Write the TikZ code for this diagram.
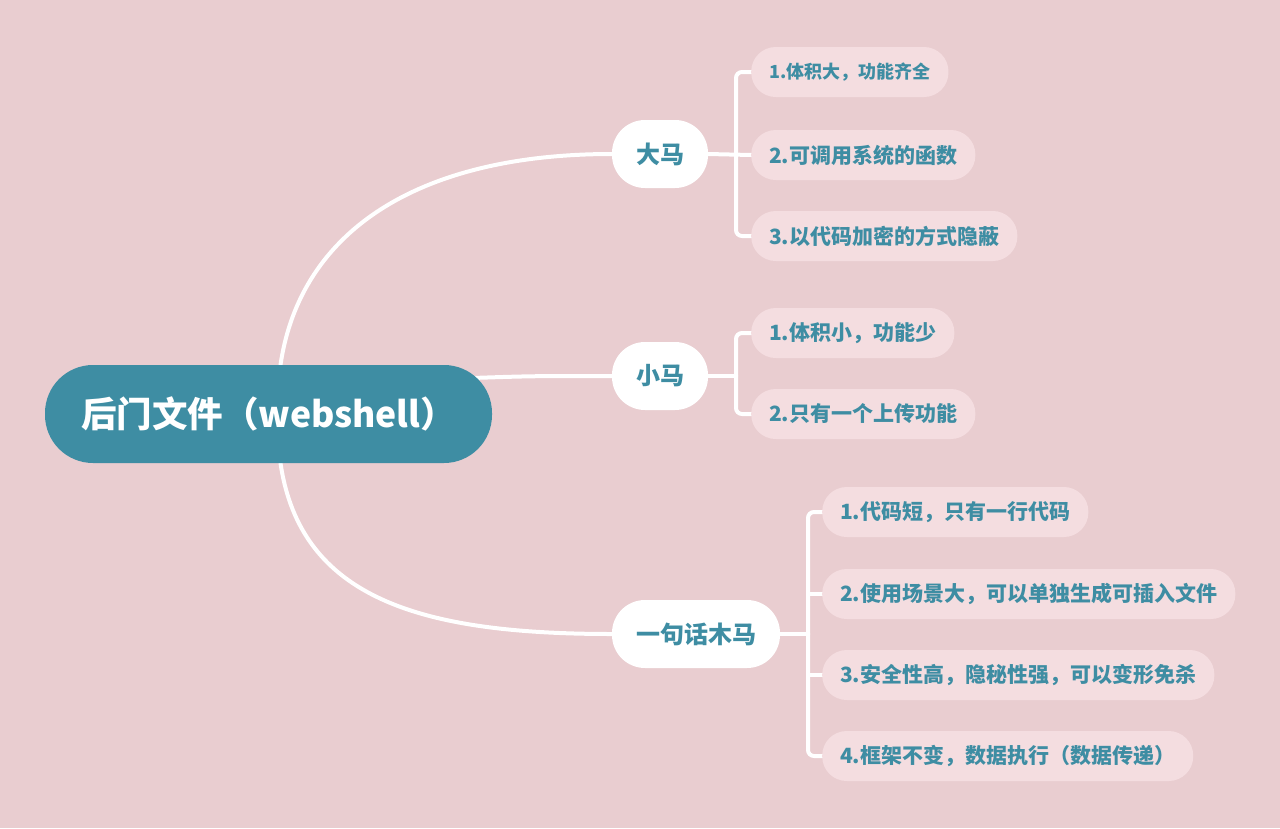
\documentclass[tikz,border=0pt]{standalone}
\usepackage{xcolor}
\usepackage{fontspec}
\setmainfont{Noto Sans CJK SC}
\usepackage{tikz}
\usetikzlibrary{positioning, calc, backgrounds}
\definecolor{bgPink}{RGB}{233,205,208}
\definecolor{leafPink}{RGB}{244,221,224}
\definecolor{rootTeal}{RGB}{62,141,163}

\begin{document}
\begin{tikzpicture}[
      x=1pt, y=-1pt,
      root/.style={draw=none, rectangle, rounded corners=48pt, fill=rootTeal,
                  minimum width=447pt, minimum height=98pt, inner sep=0pt,
                  text=white, font=\fontsize{35.5}{40}\selectfont\bfseries},
      topic/.style={draw=none, rectangle, rounded corners=33pt, fill=white,
                  minimum height=68pt, inner sep=0pt,
                  text=rootTeal, font=\fontsize{24}{28}\selectfont\bfseries},
      leaf/.style={draw=none, rectangle, rounded corners=24.5pt, fill=leafPink,
                  minimum height=50pt, inner xsep=18pt, inner ysep=0pt, anchor=west,
                  text=rootTeal, font=\fontsize{21}{24}\selectfont\bfseries},
      branch/.style={draw=white, line width=4pt, line cap=round},
      bracket/.style={branch, rounded corners=6pt}
    ]
      \useasboundingbox (0,0) rectangle (1280,828);

      % main nodes
      \node[root] (root) at (268.5,414) {后门文件（webshell）};
      \node[topic, minimum width=96pt]  (dama)   at (660,154) {大马};
      \node[topic, minimum width=96pt]  (xiaoma) at (660,376) {小马};
      \node[topic, minimum width=168pt] (yiju)   at (696,634) {一句话木马};

      % leaves
      \node[leaf, font=\fontsize{18}{22}\selectfont\bfseries] (d1) at (751,72) {1.体积大，功能齐全};
      \node[leaf] (d2) at (751,155) {2.可调用系统的函数};
      \node[leaf] (d3) at (751,236) {3.以代码加密的方式隐蔽};

      \node[leaf] (x1) at (751,333) {1.体积小，功能少};
      \node[leaf] (x2) at (751,414) {2.只有一个上传功能};

      \node[leaf] (y1) at (822,512) {1.代码短，只有一行代码};
      \node[leaf] (y2) at (822,594) {2.使用场景大，可以单独生成可插入文件};
      \node[leaf] (y3) at (822,675) {3.安全性高，隐秘性强，可以变形免杀};
      \node[leaf, text width=335pt, align=left] (y4) at (822,756) {4.框架不变，数据执行（数据传递）};

      \begin{scope}[on background layer]
        \fill[bgPink] (0,0) rectangle (1280,828);
        % root to topics
        \draw[branch] ([xshift=12pt]root.north) .. controls +(20,-135) and +(-192,0) .. (dama.west);
        \draw[branch] ([shift={(-20,-36)}]root.east) .. controls +(60,-2) .. (xiaoma.west);
        \draw[branch] ([xshift=12pt]root.south) .. controls +(20,135) and +(-192,0) .. (yiju.west);
        % topics to leaves
        \draw[branch] (dama.east) -- (d2.west);
        \draw[bracket] (d1.west) -- ++(-15,0) |- (d3.west);
        \draw[branch] (xiaoma.east) -- ++(28,0);
        \draw[bracket] (x1.west) -- ++(-15,0) |- (x2.west);
        \draw[branch] (yiju.east) -- ++(28,0);
        \draw[bracket] (y1.west) -- ++(-14,0) |- (y4.west);
        \draw[branch] (y2.west) -- ++(-14,0);
        \draw[branch] (y3.west) -- ++(-14,0);
      \end{scope}
    \end{tikzpicture}
\end{document}
